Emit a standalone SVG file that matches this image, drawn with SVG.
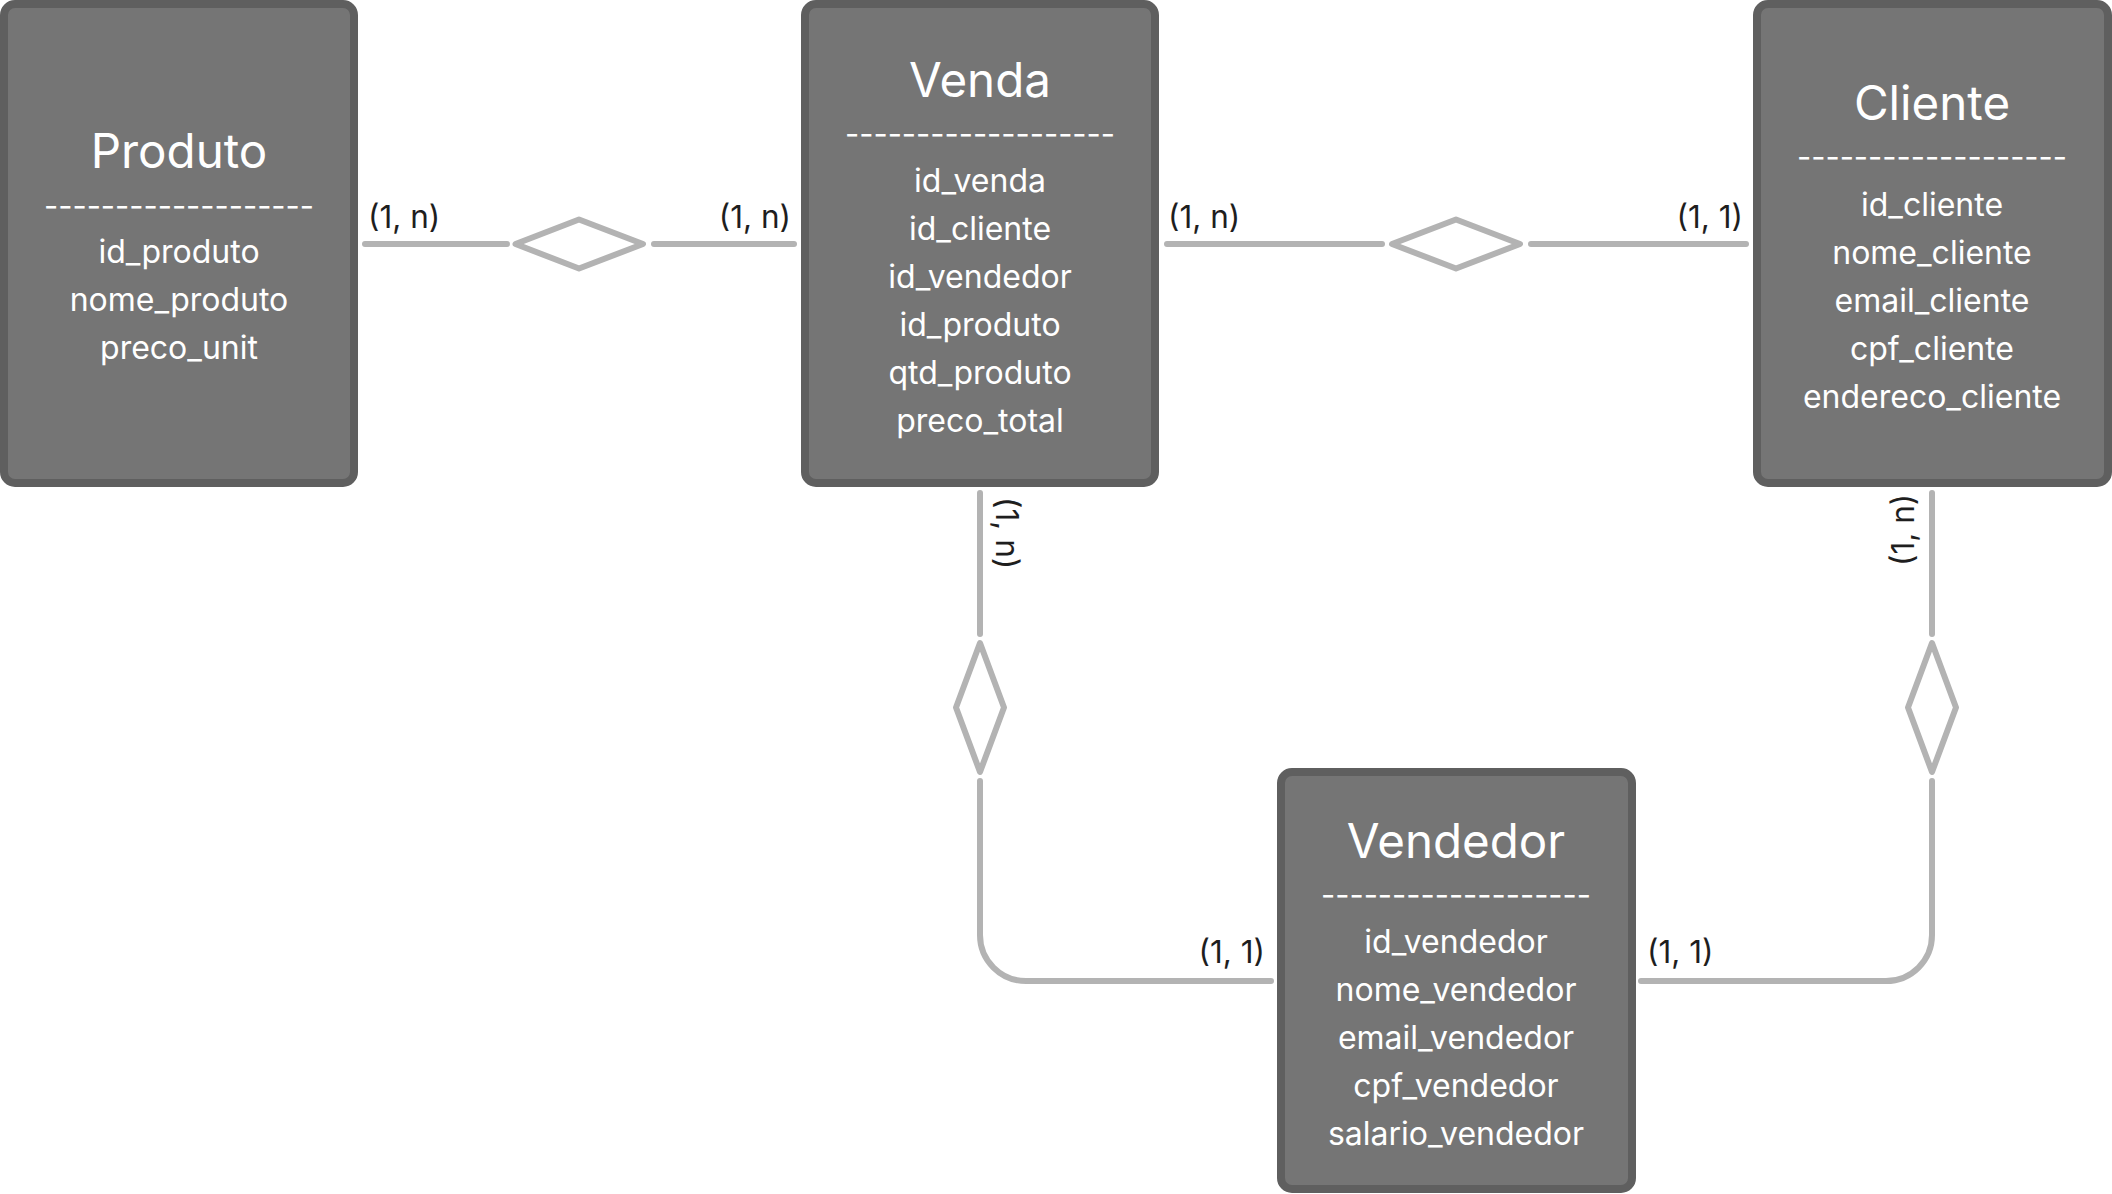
<svg xmlns="http://www.w3.org/2000/svg" width="2112" height="1194" viewBox="0 0 2112 1194">
<style>
.box{fill:#757575;stroke:#5f5f5f;stroke-width:8}
.title{font-family:Inter,"Liberation Sans",sans-serif;font-size:47.5px;fill:#ffffff;text-anchor:middle}
.attr{font-family:Inter,"Liberation Sans",sans-serif;font-size:32px;fill:#ffffff;text-anchor:middle}
.dash{font-family:Inter,"Liberation Sans",sans-serif;font-size:32px;fill:#ffffff;text-anchor:middle}
.conn{fill:none;stroke:#b3b3b3;stroke-width:6;stroke-linecap:round;stroke-linejoin:round}
.lbl{font-family:Inter,"Liberation Sans",sans-serif;font-size:31.5px;fill:#1e1e1e}
</style>
<rect width="2112" height="1194" fill="#ffffff"/>
<g id="connectors">
<path class="conn" d="M365,244 H507"/>
<path class="conn" d="M515.5,244 L579,219.5 L643,244 L579,268.5 Z"/>
<path class="conn" d="M654,244 H794"/>
<path class="conn" d="M1167,244 H1382"/>
<path class="conn" d="M1392,244 L1456,219.5 L1520,244 L1456,268.5 Z"/>
<path class="conn" d="M1531,244 H1746"/>
<path class="conn" d="M980,493 V634"/>
<path class="conn" d="M980,643 L1004,707.5 L980,772 L956,707.5 Z"/>
<path class="conn" d="M980,781 V935 A46,46 0 0 0 1026,981 H1271"/>
<path class="conn" d="M1932,493 V634"/>
<path class="conn" d="M1932,643 L1956,707.5 L1932,772 L1908,707.5 Z"/>
<path class="conn" d="M1932,781 V935 A46,46 0 0 1 1886,981 H1641"/>
<text class="lbl" x="368" y="228">(1, n)</text>
<text class="lbl" x="791" y="228" text-anchor="end">(1, n)</text>
<text class="lbl" x="1168" y="228">(1, n)</text>
<text class="lbl" x="1743" y="228" text-anchor="end">(1, 1)</text>
<text class="lbl" transform="translate(996,497) rotate(90)">(1, n)</text>
<text class="lbl" transform="translate(1914,566) rotate(-90)">(1, n)</text>
<text class="lbl" x="1265" y="963" text-anchor="end">(1, 1)</text>
<text class="lbl" x="1647" y="963">(1, 1)</text>
</g>
<g id="produto">
<rect class="box" x="4" y="4" width="350" height="479" rx="11"/>
<text class="title" x="179" y="168">Produto</text>
<text class="dash" x="179" y="217" textLength="270" lengthAdjust="spacingAndGlyphs">-------------------</text>
<text class="attr" x="179" y="263">id_produto</text>
<text class="attr" x="179" y="311">nome_produto</text>
<text class="attr" x="179" y="359">preco_unit</text>
</g>
<g id="venda">
<rect class="box" x="805" y="4" width="350" height="479" rx="11"/>
<text class="title" x="980" y="97">Venda</text>
<text class="dash" x="980" y="145" textLength="270" lengthAdjust="spacingAndGlyphs">-------------------</text>
<text class="attr" x="980" y="192">id_venda</text>
<text class="attr" x="980" y="240">id_cliente</text>
<text class="attr" x="980" y="288">id_vendedor</text>
<text class="attr" x="980" y="336">id_produto</text>
<text class="attr" x="980" y="384">qtd_produto</text>
<text class="attr" x="980" y="432">preco_total</text>
</g>
<g id="cliente">
<rect class="box" x="1757" y="4" width="351" height="479" rx="11"/>
<text class="title" x="1932" y="120">Cliente</text>
<text class="dash" x="1932" y="168" textLength="270" lengthAdjust="spacingAndGlyphs">-------------------</text>
<text class="attr" x="1932" y="216">id_cliente</text>
<text class="attr" x="1932" y="264">nome_cliente</text>
<text class="attr" x="1932" y="312">email_cliente</text>
<text class="attr" x="1932" y="360">cpf_cliente</text>
<text class="attr" x="1932" y="408">endereco_cliente</text>
</g>
<g id="vendedor">
<rect class="box" x="1281" y="772" width="351" height="417" rx="11"/>
<text class="title" x="1456" y="858">Vendedor</text>
<text class="dash" x="1456" y="906" textLength="270" lengthAdjust="spacingAndGlyphs">-------------------</text>
<text class="attr" x="1456" y="953">id_vendedor</text>
<text class="attr" x="1456" y="1001">nome_vendedor</text>
<text class="attr" x="1456" y="1049">email_vendedor</text>
<text class="attr" x="1456" y="1097">cpf_vendedor</text>
<text class="attr" x="1456" y="1145">salario_vendedor</text>
</g>
</svg>
